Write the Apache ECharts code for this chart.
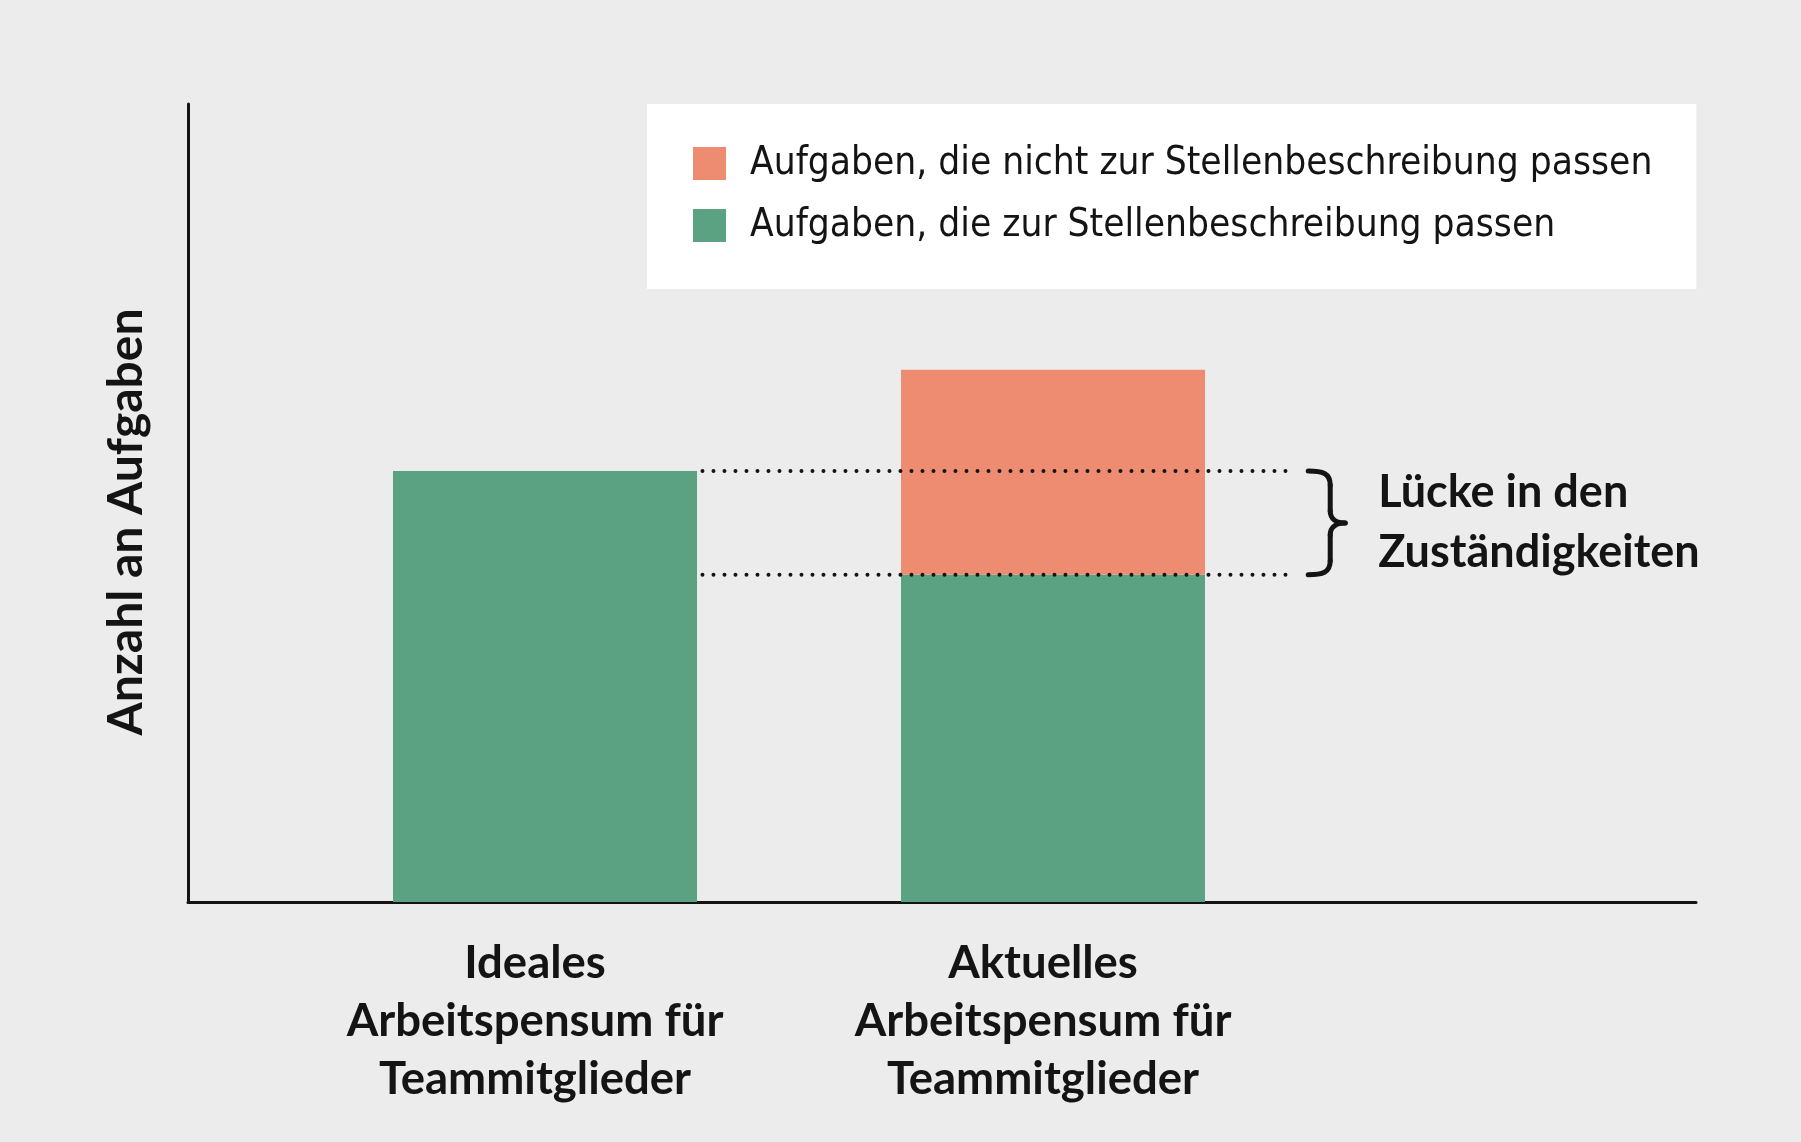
<!DOCTYPE html>
<html>
<head>
<meta charset="utf-8">
<script src="https://cdn.jsdelivr.net/npm/echarts@6/dist/echarts.min.js"></script>
<style>
html,body{margin:0;padding:0;background:#ececec;}
#c{width:1801px;height:1142px;}
</style>
</head>
<body>
<div id="c"></div>
<script>
// ---- data ----
var categories = ['Ideales\nArbeitspensum für\nTeammitglieder', 'Aktuelles\nArbeitspensum für\nTeammitglieder'];
var seriesNames = ['Aufgaben, die nicht zur Stellenbeschreibung passen', 'Aufgaben, die zur Stellenbeschreibung passen'];
var fittingTasks = [54, 41];        // green
var nonFittingTasks = [0, 25.7];    // orange
var yAxisName = 'Anzahl an Aufgaben';
var gapLabel = 'Lücke in den\nZuständigkeiten';
var gapLineRange = [0.81, 1.965];   // extent of dotted guide lines, in category units
var yMax = 100;

var GREEN = '#5aa282', ORANGE = '#ee8c71', INK = '#141414';
var FONT = "Lato, 'Open Sans', sans-serif";

var chart = echarts.init(document.getElementById('c'), null, {renderer: 'canvas'});

var upper = fittingTasks[0];
var lower = fittingTasks[1];

var option = {
  backgroundColor: '#ececec',
  animation: false,
  grid: [
    {left: 188, top: 104, right: 105, bottom: 240},
    {left: 291, top: 104, width: 1016, bottom: 240}
  ],
  legend: {
    orient: 'vertical',
    left: 647, top: 104,
    data: [seriesNames[0], seriesNames[1]],
    backgroundColor: '#ffffff',
    padding: [40, 44, 44, 46],
    itemWidth: 33, itemHeight: 33, itemGap: 23,
    icon: 'rect',
    selectedMode: false,
    textStyle: {fontFamily: "'DejaVu Sans Condensed', 'Liberation Sans Narrow', sans-serif", fontSize: 38.5, color: INK, width: 900, height: 33, lineHeight: 33, padding: [0, 0, 0, 19]}
  },
  xAxis: [
    {gridIndex: 0, type: 'value', min: 0, max: 1, axisLine: {show: true, onZero: false, lineStyle: {color: INK, width: 3}}, axisTick: {show: false}, axisLabel: {show: false}, splitLine: {show: false}},
    {gridIndex: 1, type: 'category', data: categories, axisLine: {show: false}, axisTick: {show: false},
      axisLabel: {fontFamily: FONT, fontSize: 45.5, color: INK, lineHeight: 58, margin: 32, fontWeight: 'bold', padding: [0, 20, 0, 0]}},
    {gridIndex: 1, type: 'value', min: 0, max: 2, show: false}
  ],
  yAxis: [
    {gridIndex: 0, type: 'value', min: 0, max: yMax, axisLine: {show: true, onZero: false, lineStyle: {color: INK, width: 3}}, axisTick: {show: false}, axisLabel: {show: false}, splitLine: {show: false},
      name: yAxisName, nameLocation: 'middle', nameGap: 37, nameRotate: 90,
      nameTextStyle: {fontFamily: FONT, fontSize: 48, color: INK, fontWeight: 'bold', padding: [0, 38, 0, 0]}},
    {gridIndex: 1, type: 'value', min: 0, max: yMax, show: false}
  ],
  series: [
    {name: seriesNames[1], type: 'bar', stack: 'a', xAxisIndex: 1, yAxisIndex: 1, barWidth: 304, data: fittingTasks, itemStyle: {color: GREEN}},
    {name: seriesNames[0], type: 'bar', stack: 'a', xAxisIndex: 1, yAxisIndex: 1, barWidth: 304, data: nonFittingTasks, itemStyle: {color: ORANGE}},
    {type: 'line', xAxisIndex: 2, yAxisIndex: 1, symbol: 'none', silent: true, z: 5,
      data: [[gapLineRange[0], upper], [gapLineRange[1], upper]],
      lineStyle: {color: INK, width: 4, type: [0, 11], cap: 'round'}},
    {type: 'line', xAxisIndex: 2, yAxisIndex: 1, symbol: 'none', silent: true, z: 5,
      data: [[gapLineRange[0], lower], [gapLineRange[1], lower]],
      lineStyle: {color: INK, width: 4, type: [0, 11], cap: 'round'}}
  ]
};
chart.setOption(option);

// bracket + gap label, positioned from the scale
var pEnd = chart.convertToPixel({xAxisIndex: 2, yAxisIndex: 1}, [gapLineRange[1], upper]);
var pLow = chart.convertToPixel({xAxisIndex: 2, yAxisIndex: 1}, [gapLineRange[1], lower]);
var y1 = pEnd[1], h = pLow[1] - y1, m = y1 + h / 2, y2 = y1 + h;
var bx = pEnd[0] + 19, sx = bx + 22, tx = bx + 37;
var bStyle = {fill: null, stroke: INK, lineWidth: 5, lineCap: 'round'};
function bez(a, b, c, d) {
  return {type: 'bezierCurve', shape: {x1: a[0], y1: a[1], cpx1: b[0], cpy1: b[1], cpx2: c[0], cpy2: c[1], x2: d[0], y2: d[1]}, style: bStyle};
}
function ln(a, b) {
  return {type: 'line', shape: {x1: a[0], y1: a[1], x2: b[0], y2: b[1]}, style: bStyle};
}
chart.setOption({
  graphic: [
    bez([bx, y1], [bx + 14, y1], [sx, y1 + 2], [sx, y1 + 14]),
    ln([sx, y1 + 14], [sx, m - 12]),
    bez([sx, m - 12], [sx, m - 4], [bx + 28, m], [tx, m]),
    bez([tx, m], [bx + 28, m], [sx, m + 4], [sx, m + 12]),
    ln([sx, m + 12], [sx, y2 - 14]),
    bez([sx, y2 - 14], [sx, y2 - 2], [bx + 14, y2], [bx, y2]),
    {type: 'text', x: bx + 70, y: m, style: {text: gapLabel, fontFamily: FONT, fontSize: 45, fontWeight: 'bold', fill: INK, lineHeight: 60, verticalAlign: 'middle', align: 'left'}}
  ]
});
</script>
</body>
</html>
